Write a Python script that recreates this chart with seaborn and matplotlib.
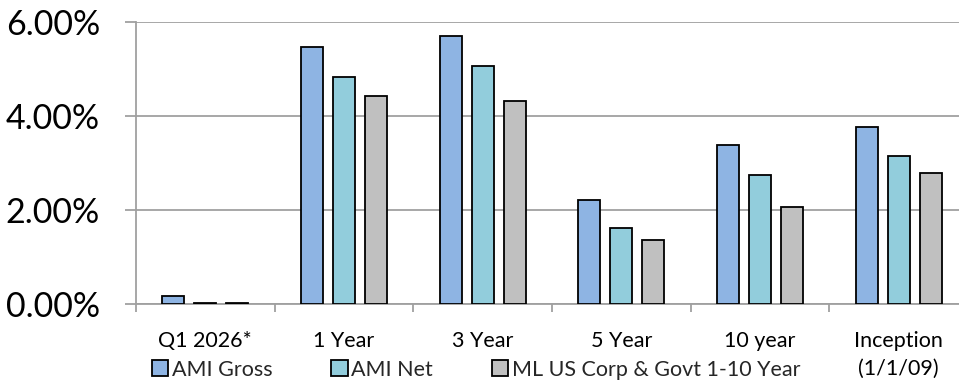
import matplotlib
matplotlib.use("Agg")
import matplotlib.pyplot as plt
import matplotlib.patches as mpatches
from matplotlib.ticker import FuncFormatter, FixedLocator
import pandas as pd
import seaborn as sns

# Trailing returns by period (percent)
periods = ["Q1 2026*", "1 Year", "3 Year", "5 Year", "10 year", "Inception\n(1/1/09)"]
ami_gross = [0.18, 5.46, 5.71, 2.23, 3.38, 3.76]
ami_net = [0.03, 4.83, 5.07, 1.62, 2.76, 3.15]
benchmark = [0.03, 4.43, 4.32, 1.36, 2.07, 2.80]
series_names = ["AMI Gross", "AMI Net", "ML US Corp & Govt 1-10 Year"]
colors = ["#8EB4E3", "#92CDDC", "#C0C0C0"]

rows = []
for name, vals in zip(series_names, [ami_gross, ami_net, benchmark]):
    for p, v in zip(periods, vals):
        rows.append({"Period": p, "Series": name, "Return": v})
df = pd.DataFrame(rows)

sns.set_theme(style="white")
plt.rcParams["font.family"] = ["Lato", "DejaVu Sans"]

fig = plt.figure(figsize=(9.59, 3.80), dpi=100)
ax = fig.add_axes([0.1418, 0.1987, 0.8676, 0.7434])

sns.barplot(data=df, x="Period", y="Return", hue="Series", order=periods,
            hue_order=series_names, palette=colors, width=0.69, gap=0.31,
            edgecolor="black", linewidth=1.3, saturation=1, errorbar=None,
            legend=False, ax=ax, zorder=3)

grid_c = "#A0A0A0"
ax.set_ylim(0, 6)
ax.set_xlim(-0.5, 5.5)
ax.set_yticks([0, 2, 4, 6])
ax.yaxis.set_major_formatter(FuncFormatter(lambda v, _: f"{v:.2f}%"))
ax.yaxis.grid(True, color=grid_c, linewidth=1.3, zorder=0)
ax.set_axisbelow(True)
ax.set_xlabel("")
ax.set_ylabel("")

for side in ["top", "right"]:
    ax.spines[side].set_visible(False)
for side in ["left", "bottom"]:
    ax.spines[side].set_color(grid_c)
    ax.spines[side].set_linewidth(1.3)

ax.tick_params(axis="y", which="major", left=True, length=8, width=1.3,
               color=grid_c, labelsize=24.5, pad=18, labelcolor="black")
ax.tick_params(axis="x", which="major", bottom=False, labelsize=15.5, pad=13,
               labelcolor="black")
for lbl in ax.get_xticklabels():
    lbl.set_linespacing(1.5)
ax.xaxis.set_minor_locator(FixedLocator([-0.5, 0.5, 1.5, 2.5, 3.5, 4.5]))
ax.tick_params(axis="x", which="minor", bottom=True, length=6, width=1.3,
               color=grid_c)

handles = [mpatches.Patch(facecolor=c, edgecolor="black", linewidth=1.3, label=n)
           for c, n in zip(colors, series_names)]
fig.legend(handles=handles, loc="center left", bbox_to_anchor=(0.158, 0.027),
           ncol=3, frameon=False, fontsize=15.5, handlelength=0.75,
           handleheight=0.75, handletextpad=0.18, columnspacing=2.75,
           borderaxespad=0, borderpad=0)

fig.savefig("out.png", dpi=100)
